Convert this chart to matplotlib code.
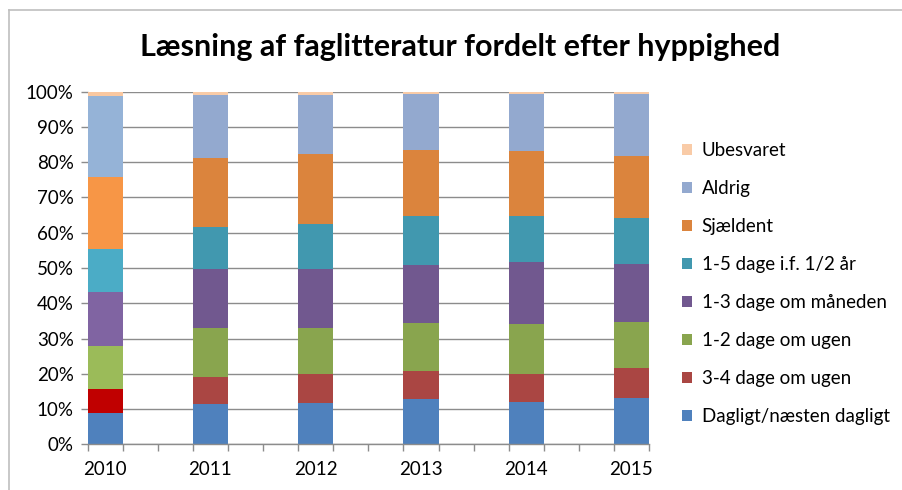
import matplotlib
matplotlib.use("Agg")
import matplotlib.pyplot as plt
from matplotlib.lines import Line2D
from matplotlib.patches import Patch
import numpy as np

years = ["2010", "2011", "2012", "2013", "2014", "2015"]
series_names = ["Dagligt/næsten dagligt", "3-4 dage om ugen", "1-2 dage om ugen",
                "1-3 dage om måneden", "1-5 dage i.f. 1/2 år", "Sjældent", "Aldrig", "Ubesvaret"]

dagligt   = [8.9, 11.5, 11.7, 12.9, 12.0, 13.0]
dage34    = [6.8, 7.5, 8.2, 7.8, 8.0, 8.6]
dage12    = [12.3, 14.0, 13.1, 13.7, 14.2, 13.1]
dage13m   = [15.2, 16.6, 16.8, 16.5, 17.5, 16.4]
dage15h   = [12.2, 12.1, 12.6, 13.8, 13.0, 13.0]
sjaeldent = [20.3, 19.4, 19.8, 18.7, 18.5, 17.7]
aldrig    = [23.2, 18.0, 16.9, 15.9, 16.1, 17.5]
ubesvaret = [1.1, 0.9, 0.9, 0.7, 0.7, 0.7]

series = [dagligt, dage34, dage12, dage13m, dage15h, sjaeldent, aldrig, ubesvaret]

colors_main = ["#4F81BD", "#AA4643", "#89A54E", "#71588F", "#4198AF", "#DB843D", "#93A9CF", "#F9CBA7"]
colors_2010 = ["#4F81BD", "#C00000", "#9BBB59", "#8064A2", "#4BACC6", "#F79646", "#95B3D7", "#FAC8A0"]

plt.rcParams['font.family'] = ['Lato', 'DejaVu Sans']

fig = plt.figure(figsize=(9.03, 4.9), dpi=100)
W, H = 903, 490
ax = fig.add_axes([87.7 / W, 1 - 444.3 / H, (649 - 87.7) / W, (444.3 - 91.7) / H])

x = np.arange(len(years))
width = 1 / 3
bottom = np.zeros(len(years))
for i, vals in enumerate(series):
    vals = np.array(vals, dtype=float)
    cols = [colors_2010[i]] + [colors_main[i]] * (len(years) - 1)
    ax.bar(x, vals, width=width, bottom=bottom, color=cols, linewidth=0, zorder=3)
    bottom += vals

ax.set_xlim(-1 / 6, len(years) - 1 + 1 / 6)
ax.set_ylim(0, 100)
ax.set_yticks(np.arange(0, 101, 10))
ax.set_yticklabels([f"{v}%" for v in range(0, 101, 10)])
ax.yaxis.grid(True, color="#8C8C8C", linewidth=1.0, zorder=0)
ax.set_axisbelow(True)

for s in ["top", "right", "left"]:
    ax.spines[s].set_visible(False)
ax.spines["bottom"].set_color("#8C8C8C")
ax.spines["bottom"].set_linewidth(1.0)
ax.spines["bottom"].set_zorder(4)

ax.set_xticks(x)
ax.set_xticklabels(years)
ax.set_xticks(-1 / 6 + np.arange(0, 3 * (len(years) - 1) + 2) / 3, minor=True)
ax.tick_params(axis="x", which="major", length=0, pad=12, labelsize=13.5, colors="#000000")
ax.tick_params(axis="x", which="minor", length=5, width=1, color="#8C8C8C", direction="out")
ax.tick_params(axis="y", which="major", length=5, width=1, color="#8C8C8C", pad=5, labelsize=13.5)

fig.text(460 / W, 1 - 47 / H, "Læsning af faglitteratur fordelt efter hyppighed",
         ha="center", va="center", fontsize=22, fontweight="bold")

# legend (reversed order like reference)
handles = [Patch(facecolor=colors_main[i], edgecolor="none") for i in range(len(series))][::-1]
labels = series_names[::-1]
fig.legend(handles, labels, loc="upper left", bbox_to_anchor=(682 / W, 1 - 142 / H),
           frameon=False, fontsize=13.5, handlelength=0.55, handleheight=0.55,
           handletextpad=0.5, labelspacing=1.12, borderaxespad=0, borderpad=0)

# figure border (top and left)
fig.add_artist(Line2D([9 / W, 1], [1 - 10 / H, 1 - 10 / H], color="#BFBFBF", linewidth=1.2,
                      transform=fig.transFigure))
fig.add_artist(Line2D([9 / W, 9 / W], [0, 1 - 10 / H], color="#BFBFBF", linewidth=1.2,
                      transform=fig.transFigure))

fig.savefig("out.png", dpi=100)
